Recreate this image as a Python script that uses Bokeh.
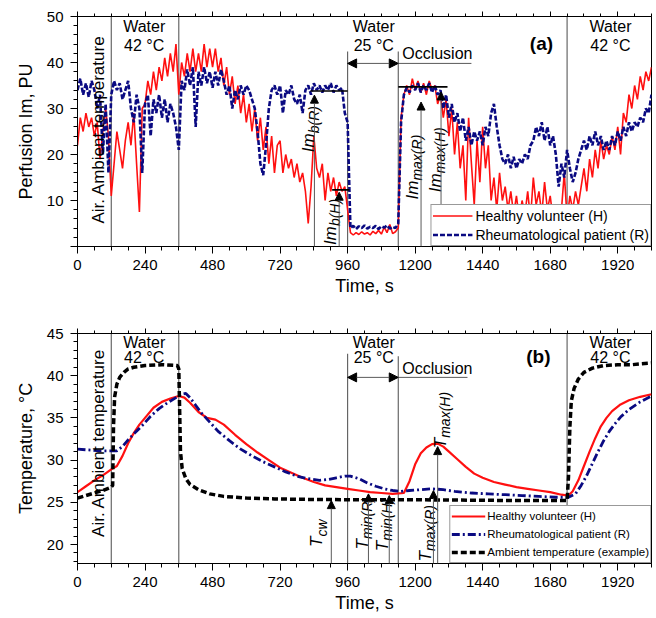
import math
from bokeh.plotting import figure
from bokeh.layouts import column
from bokeh.models import (Arrow, NormalHead, ColumnDataSource, LinearAxis,
                          SingleIntervalTicker, Range1d, CustomLabelingPolicy)
from bokeh.core.properties import value
from bokeh.embed import file_html
from bokeh.resources import INLINE

FONT = "Liberation Sans"
RED = "#FF1010"
NAVY = "#0A0A82"
GRAY = "#5a5a5a"

# ---------------- data: panel (a) perfusion, sampled every 10 s ----------------
perf_H = [
    22, 28, 25, 29, 26, 28, 24, 27, 19, 25, 30, 24,
    11, 18, 25, 21, 17, 23, 27, 22, 29, 18, 7.5, 30,
    31, 36, 33, 38, 34, 39, 36, 41, 37, 42, 38, 44,
    33, 40, 37, 42, 38, 43, 38, 42, 38, 44, 39, 43,
    39, 43, 38, 41, 35, 39, 33, 37, 31, 35, 29, 33,
    27, 31, 25, 30, 23, 28, 21, 26, 18, 24, 16, 22,
    23, 16, 20, 17, 19, 15, 18, 14, 16, 12, 5, 13,
    24, 17, 15, 18, 10, 16, 12, 15, 11, 14, 12, 13,
    8, 3, 2.5, 3, 2.6, 3.2, 2.7, 3, 2.5, 3.3, 2.8, 3.5,
    2.7, 4.2, 3, 4.8, 2.8, 3.2, 4, 28, 33, 35, 33, 36.5,
    34, 36, 33.5, 35.5, 33, 36, 34, 35, 31, 33, 28, 32,
    24, 30, 20, 27, 17, 22, 10, 28, 18, 9, 23, 14,
    26, 17, 22, 10, 15, 8, 16, 10, 13, 8, 12, 7,
    11, 6, 10, 7, 12, 6, 15, 9, 12, 7, 14, 8,
    11, 6, 9, 5, 8, 16, 6, 11, 8, 12, 9, 13,
    17, 12, 19, 15, 21, 17, 23, 19, 22, 20, 24, 21,
    26, 20, 29, 27, 33, 30, 35, 32, 37, 34, 38, 36,
    39,
]
perf_R = [
    34, 36.5, 33, 35.5, 32.5, 36, 34, 30, 33, 20, 31, 16,
    33, 36, 34, 35.5, 32, 34, 36, 30, 27, 33, 30, 16,
    31, 33, 24, 32, 29, 33, 28, 32, 27, 31, 29, 26,
    21, 36, 34, 38.5, 35, 39, 26, 38, 35, 39, 35.5, 38,
    34.5, 38, 35, 38.5, 36, 33, 35, 30, 34, 32, 35, 33,
    35, 34, 32, 30, 25, 18, 15.5, 22, 30, 34, 35, 33,
    35, 29, 34, 33, 35, 32, 31, 33, 29, 34, 35, 33,
    35.5, 34, 35, 33.5, 35, 34, 35.5, 33.5, 35, 34, 34.5, 29,
    27, 4, 4.5, 3.8, 4.4, 4, 4.6, 3.9, 4.3, 4, 4.5, 3.8,
    4.4, 4.1, 4.6, 3.9, 4.3, 4, 5, 27, 33, 34.5, 33.5, 35,
    34, 35.5, 33.5, 35, 34, 35.5, 33.5, 35, 33, 34, 30, 33,
    28, 31, 27, 29, 25, 28, 23, 26, 22, 25, 23, 25,
    22, 26, 24, 29, 31, 26, 22, 19, 18, 20, 17, 19.5,
    17, 19, 18, 20, 19, 22, 23, 26, 24, 27, 23, 26,
    22, 24, 20, 13, 18, 15, 21, 17, 14, 16, 19, 21,
    23, 21, 24, 22, 25, 22, 24, 21, 23, 21, 24, 22,
    25, 23, 26, 24, 27, 25, 27, 26, 28, 27, 30, 29,
    33,
]
t_perf = [10 * i for i in range(len(perf_H))]

# ---------------- data: panel (b) temperature ----------------
tH = [0, 30, 60, 90, 120, 140, 160, 180, 200, 220, 240, 270, 300, 330, 360, 380, 400,
      430, 460, 490, 520, 560, 600, 640, 680, 720, 760, 800, 840, 880, 920, 960, 1000,
      1040, 1080, 1120, 1160, 1180, 1200, 1220, 1240, 1260, 1280, 1300, 1320, 1350,
      1380, 1410, 1440, 1480, 1520, 1560, 1600, 1640, 1680, 1720, 1745, 1760, 1780,
      1800, 1820, 1840, 1860, 1880, 1900, 1930, 1960, 2000, 2040]
temp_H = [26.2, 26.9, 27.6, 28.2, 28.9, 29.3, 30.5, 32.0, 33.2, 34.2, 35.0, 36.2, 36.9,
          37.3, 37.6, 37.4, 36.8, 35.7, 35.0, 34.8, 34.2, 33.0, 31.9, 30.9, 30.0, 29.1,
          28.5, 27.9, 27.4, 27.0, 26.8, 26.6, 26.4, 26.2, 26.1, 26.0, 26.1, 27.5, 29.5,
          30.8, 31.5, 31.9, 31.95, 31.6, 31.0, 30.1, 29.2, 28.4, 27.9, 27.4, 27.1, 26.8,
          26.6, 26.4, 26.2, 25.9, 25.8, 26.3, 27.6, 29.3, 31.0, 32.6, 34.0, 35.0, 35.8,
          36.6, 37.1, 37.5, 37.8]
tR = [0, 40, 80, 120, 140, 160, 180, 200, 230, 260, 290, 320, 350, 370, 385, 400, 420,
      440, 470, 500, 540, 580, 620, 660, 700, 740, 780, 820, 860, 890, 920, 950, 970,
      1000, 1030, 1060, 1090, 1120, 1150, 1180, 1220, 1260, 1300, 1340, 1400, 1460,
      1520, 1580, 1640, 1700, 1745, 1770, 1790, 1810, 1830, 1850, 1870, 1890, 1910,
      1930, 1960, 2000, 2040]
temp_R = [31.3, 31.2, 31.1, 31.1, 31.1, 31.6, 32.4, 33.1, 34.1, 35.2, 36.1, 36.8, 37.4,
          37.8, 37.9, 37.4, 36.5, 35.6, 34.5, 33.4, 32.3, 31.3, 30.5, 29.8, 29.2, 28.6,
          28.1, 27.8, 27.6, 27.7, 27.9, 28.1, 28.1, 27.8, 27.3, 26.9, 26.6, 26.4, 26.3,
          26.4, 26.5, 26.6, 26.5, 26.3, 26.1, 26.0, 25.9, 25.8, 25.7, 25.6, 25.6, 26.0,
          27.0, 28.2, 29.6, 31.0, 32.3, 33.4, 34.3, 35.1, 36.0, 36.9, 37.6]
tA = [0, 30, 60, 90, 120, 125, 128, 132, 140, 150, 165, 180, 200, 240, 300, 355, 360,
      363, 366, 372, 385, 400, 430, 470, 520, 600, 700, 800, 1000, 1200, 1400, 1600,
      1740, 1745, 1750, 1755, 1765, 1780, 1800, 1830, 1870, 1920, 1970, 2000, 2040]
temp_A = [25.5, 25.8, 26.1, 26.4, 26.8, 27.0, 34.0, 37.5, 39.0, 39.8, 40.4, 40.8, 41.0,
          41.2, 41.3, 41.2, 40.8, 36.0, 31.0, 29.0, 27.8, 27.1, 26.5, 26.0, 25.7, 25.5,
          25.4, 25.35, 25.3, 25.3, 25.25, 25.2, 25.2, 28.0, 34.0, 37.0, 38.5, 39.6, 40.4,
          40.9, 41.2, 41.3, 41.3, 41.4, 41.5]

# ---------------- annotation values ----------------
sep_x = [120, 360, 960, 1140, 1740]
sep_top_a = [50, 50, 42.4, 42.4, 50]
sep_top_b = [45, 45, 42.6, 42.3, 45]

im_x = [842, 930, 1221, 1292]
im_tip = [32.9, 11.8, 31.4, 33.6]
mean_x0 = [828, 905, 1140]
mean_x1 = [960, 967, 1315]
mean_y = [33.8, 12.3, 34.7]

t_x = [902, 1034, 1108, 1265, 1280]
t_tip = [25.2, 26.0, 25.8, 26.4, 31.6]

im_lab_x = [822, 898, 1190, 1272]
im_lab_y = [20.5, 0.3, 10.2, 11.8]
im_lab_sub = ["b(R)", "b(H)", "max(R)", "max(H)"]
t_lab_x = [850, 1012, 1083, 1236, 1290]
t_lab_y = [19.7, 19.4, 19.2, 18.0, 31.4]
t_lab_sub = ["cw", "min(R)", "min(H)", "max(R)", "max(H)"]

region_text = ["Water", "42 °C", "Water", "25 °C", "Water", "42 °C"]
region_x = [237, 237, 1053, 1053, 1894, 1894]
region_y_a = [47.8, 43.7, 47.8, 43.7, 47.8, 43.7]
region_y_b = [43.9, 42.15, 43.9, 42.15, 43.9, 42.15]

HIDE_ALL = """
const idx = []
for (const i of indices) idx.push(i)
for (const i of idx) {
  if (typeof indices.unset === "function") indices.unset(i)
  else indices.set(i, false)
}
return indices
"""


def make_fig(ymin, ymax, ystep, top_border, bottom_border, ylabel, overrides):
    p = figure(frame_width=574, frame_height=230, min_border_left=77, min_border_right=3,
               min_border_top=top_border, min_border_bottom=bottom_border,
               x_range=Range1d(0, 2040), y_range=Range1d(ymin, ymax),
               output_backend="svg", toolbar_location=None, title=None,
               background_fill_color="white", border_fill_color="white")
    p.xgrid.visible = False
    p.ygrid.visible = False
    p.outline_line_color = "black"
    p.outline_line_width = 1
    p.outline_line_alpha = 1
    p.xaxis.ticker = SingleIntervalTicker(interval=240, num_minor_ticks=4)
    p.yaxis.ticker = SingleIntervalTicker(interval=ystep, num_minor_ticks=5)
    for ax in (p.xaxis[0], p.yaxis[0]):
        ax.axis_line_color = "black"
        ax.major_tick_line_color = "black"
        ax.minor_tick_line_color = "black"
        ax.major_tick_in = 0
        ax.major_tick_out = 7
        ax.minor_tick_in = 0
        ax.minor_tick_out = 4
        ax.major_label_text_font = FONT
        ax.major_label_text_font_size = "15px"
        ax.major_label_text_color = "black"
        ax.axis_label_text_font = FONT
        ax.axis_label_text_font_size = "18px"
        ax.axis_label_text_font_style = "normal"
        ax.axis_label_text_color = "black"
    p.xaxis.major_label_standoff = 6
    p.yaxis.major_label_standoff = 7
    p.xaxis.axis_label = "Time, s"
    p.xaxis.axis_label_standoff = 3
    p.yaxis.axis_label = ylabel
    p.yaxis.axis_label_standoff = 8
    p.yaxis.major_label_overrides = overrides
    top = LinearAxis(ticker=SingleIntervalTicker(interval=240, num_minor_ticks=4),
                     major_label_policy=CustomLabelingPolicy(code=HIDE_ALL),
                     major_label_standoff=0,
                     major_tick_in=0, major_tick_out=5, minor_tick_in=0, minor_tick_out=3,
                     axis_line_color="black", major_tick_line_color="black",
                     minor_tick_line_color="black")
    p.add_layout(top, "above")
    return p


def add_text(p, xs, ys, texts, size="16px", style="normal", align="center", angle=0.0,
             baseline="middle", x_off=0, y_off=0):
    src = ColumnDataSource(dict(x=xs, y=ys, text=texts))
    p.text(x="x", y="y", text="text", source=src, text_font=value(FONT),
           text_font_size=value(size), text_font_style=value(style),
           text_align=value(align), text_baseline=value(baseline), angle=angle,
           x_offset=x_off, y_offset=y_off, text_color="black")


def rot_labels(p, xs, ys, main, subs, main_w):
    add_text(p, xs, ys, [main] * len(xs), size="17px", style="italic", align="left",
             angle=math.pi / 2, baseline="alphabetic")
    add_text(p, xs, ys, subs, size="14px", style="italic", align="left",
             angle=math.pi / 2, baseline="alphabetic", x_off=5, y_off=-main_w)


def style_legend(p, font_size, glyph_w, row_h, pad, standoff):
    leg = p.legend[0]
    leg.location = "bottom_right"
    leg.margin = 0
    leg.padding = pad
    leg.spacing = 0
    leg.label_height = row_h
    leg.glyph_height = row_h
    leg.glyph_width = glyph_w
    leg.label_standoff = standoff
    leg.border_line_color = "#333333"
    leg.border_line_width = 1
    leg.background_fill_alpha = 1
    leg.label_text_font = FONT
    leg.label_text_font_size = font_size
    leg.label_text_color = "black"


def double_arrow(p, y, x_end_line):
    p.add_layout(Arrow(x_start=960, y_start=y, x_end=1140, y_end=y, line_color=GRAY, line_width=1,
                       start=NormalHead(size=9, fill_color="black", line_color="black"),
                       end=NormalHead(size=9, fill_color="black", line_color="black")))
    p.segment(x0=[1140], y0=[y], x1=[x_end_line], y1=[y], line_color=GRAY, line_width=1)


# ================= panel (a) =================
p1 = make_fig(0, 50, 10, 15, 60, "Perfusion Im, PU", {0: ""})
p1.segment(x0=sep_x, y0=[0] * len(sep_x), x1=sep_x, y1=sep_top_a, line_color=GRAY, line_width=1.1)

p1.line(t_perf, perf_H, line_color=RED, line_width=1.6, legend_label="Healthy volunteer (H)")
p1.line(t_perf, perf_R, line_color=NAVY, line_width=2.6, line_dash="5 2",
        legend_label="Rheumatological patient (R)")

p1.segment(x0=mean_x0, y0=mean_y, x1=mean_x1, y1=mean_y, line_color="black", line_width=1.6)
src_a = ColumnDataSource(dict(x0=im_x, y0=[0] * len(im_x), x1=im_x, y1=im_tip))
p1.add_layout(Arrow(source=src_a, x_start="x0", y_start="y0", x_end="x1", y_end="y1",
                    line_color=GRAY, line_width=1,
                    end=NormalHead(size=8, fill_color="black", line_color="black")))
rot_labels(p1, im_lab_x, im_lab_y, "Im", im_lab_sub, 19)

double_arrow(p1, 39.8, 1400)
add_text(p1, [1154], [41.9], ["Occlusion"], align="left")
add_text(p1, region_x, region_y_a, region_text)
add_text(p1, [1649], [44.1], ["(a)"], size="19px", style="bold")
add_text(p1, [73.6], [5.0], ["Air. Ambient temperature"], size="17px", align="left",
         angle=math.pi / 2, baseline="alphabetic")
style_legend(p1, "14px", 40, 19, 1, 3)

# ================= panel (b) =================
p2 = make_fig(17.75, 45, 5, 27, 40, "Temperature, °C", {})
p2.segment(x0=sep_x, y0=[17.75] * len(sep_x), x1=sep_x, y1=sep_top_b, line_color=GRAY, line_width=1.1)

p2.line(tH, temp_H, line_color=RED, line_width=2.2, legend_label="Healthy volunteer (H)")
p2.line(tR, temp_R, line_color=NAVY, line_width=2.8, line_dash="8 3 2 3",
        legend_label="Rheumatological patient (R)")
p2.line(tA, temp_A, line_color="black", line_width=3.5, line_dash="6 3",
        legend_label="Ambient temperature (example)")

src_b = ColumnDataSource(dict(x0=t_x, y0=[17.75] * len(t_x), x1=t_x, y1=t_tip))
p2.add_layout(Arrow(source=src_b, x_start="x0", y_start="y0", x_end="x1", y_end="y1",
                    line_color=GRAY, line_width=1,
                    end=NormalHead(size=8, fill_color="black", line_color="black")))
rot_labels(p2, t_lab_x, t_lab_y, "T", t_lab_sub, 10.5)

double_arrow(p2, 39.8, 1386)
add_text(p2, [1154], [40.9], ["Occlusion"], align="left")
add_text(p2, region_x, region_y_b, region_text)
add_text(p2, [1638], [42.3], ["(b)"], size="19px", style="bold")
add_text(p2, [73.6], [20.9], ["Air. Ambient temperature"], size="17px", align="left",
         angle=math.pi / 2, baseline="alphabetic")
style_legend(p2, "11.5px", 34, 18, 1, 2)

layout = column(p1, p2)
open("out.html", "w").write(file_html(layout, INLINE))
